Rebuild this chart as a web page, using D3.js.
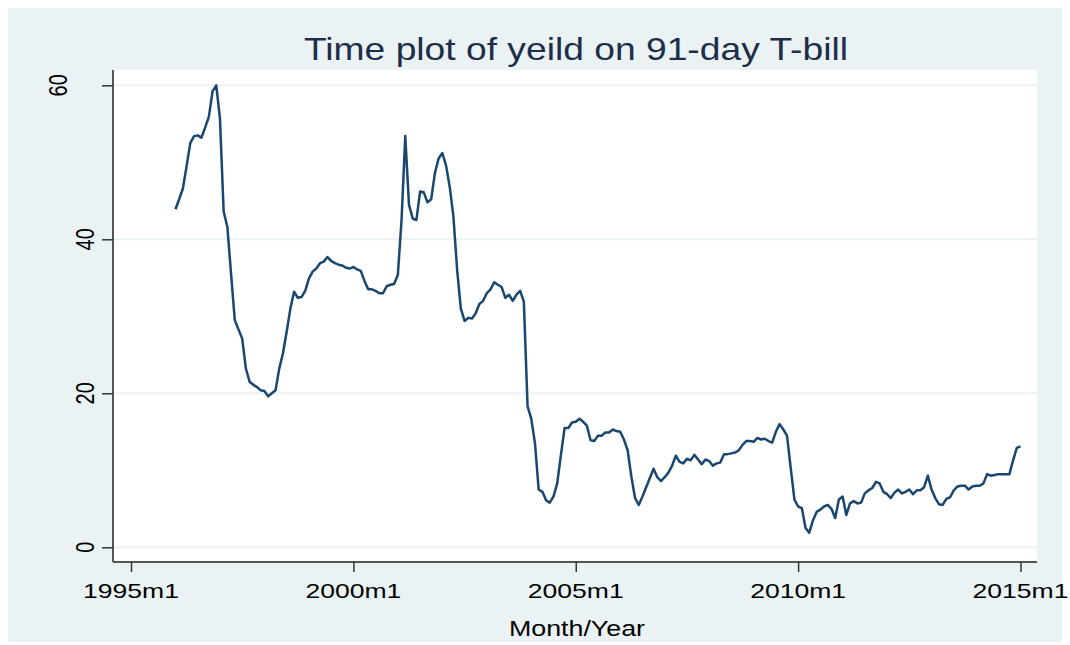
<!DOCTYPE html>
<html>
<head>
<meta charset="utf-8">
<script src="https://cdn.jsdelivr.net/npm/d3@7"></script>
<style>
  body { margin: 0; background: #fff; }
  svg { display: block; font-family: "Liberation Sans", Arial, sans-serif; }
</style>
</head>
<body>
<svg id="chart" width="1070" height="645"></svg>
<script>
// monthly yield, first value is 1996m1, last 2015m1
var startYear = 1996;
var yieldPct = [
  43.9, 45.2, 46.6, 49.5, 52.5, 53.4, 53.5, 53.2, 54.5, 55.9, 59.2, 60.0, // 1996
  55.7, 43.6, 41.6, 35.5, 29.5, 28.3, 27.1, 23.2, 21.5, 21.1, 20.8, 20.4, // 1997
  20.3, 19.6, 20.0, 20.4, 23.2, 25.2, 28.0, 31.0, 33.2, 32.4, 32.5, 33.3, // 1998
  34.9, 35.8, 36.2, 36.9, 37.1, 37.7, 37.2, 36.9, 36.7, 36.6, 36.3, 36.2, // 1999
  36.4, 36.1, 35.9, 34.6, 33.5, 33.5, 33.3, 33.0, 33.0, 33.9, 34.1, 34.2, // 2000
  35.4, 42.5, 53.4, 44.5, 42.7, 42.5, 46.2, 46.1, 44.8, 45.2, 48.6, 50.5, // 2001
  51.2, 49.6, 46.8, 42.9, 36.0, 31.0, 29.4, 29.8, 29.7, 30.4, 31.6, 32.0, // 2002
  33.0, 33.5, 34.4, 34.1, 33.8, 32.4, 32.8, 32.0, 32.8, 33.3, 31.9, 18.3, // 2003
  16.7, 13.5, 7.5, 7.2, 6.1, 5.8, 6.6, 8.3, 12.0, 15.5, 15.5, 16.2,       // 2004
  16.3, 16.7, 16.3, 15.8, 13.9, 13.8, 14.5, 14.5, 14.9, 14.9, 15.3, 15.1, // 2005
  15.0, 14.0, 12.6, 9.2, 6.4, 5.5, 6.6, 7.8, 9.0, 10.2, 9.1, 8.6,         // 2006
  9.1, 9.7, 10.6, 11.9, 11.1, 10.9, 11.5, 11.3, 12.0, 11.4, 10.8, 11.4,   // 2007
  11.2, 10.6, 10.9, 11.0, 12.1, 12.1, 12.2, 12.3, 12.6, 13.3, 13.8, 13.8, // 2008
  13.7, 14.2, 14.0, 14.1, 13.8, 13.6, 15.0, 16.0, 15.3, 14.5, 10.3, 6.2,  // 2009
  5.3, 5.1, 2.5, 1.9, 3.5, 4.6, 4.9, 5.3, 5.5, 5.0, 3.8, 6.2,             // 2010
  6.6, 4.2, 5.7, 6.0, 5.7, 5.8, 7.0, 7.4, 7.7, 8.5, 8.3, 7.2,             // 2011
  6.9, 6.4, 7.1, 7.5, 7.0, 7.2, 7.5, 6.9, 7.4, 7.4, 7.8, 9.3,             // 2012
  7.5, 6.4, 5.6, 5.5, 6.3, 6.5, 7.4, 7.9, 8.0, 8.0, 7.5, 7.9,             // 2013
  8.0, 8.0, 8.3, 9.5, 9.3, 9.4, 9.5, 9.5, 9.5, 9.5, 11.3, 12.9,           // 2014
  13.1                                                                    // 2015
];
var xTickYears = [1995, 2000, 2005, 2010, 2015];
var yTicks = [0, 20, 40, 60];
var titleText = "Time plot of yeild on 91-day T-bill";
var xTitle = "Month/Year";

var svg = d3.select("#chart");
var plot = { left: 113, right: 1037, top: 70, bottom: 562 };

// months counted from 1995m1
var x = d3.scaleLinear().domain([0, 240]).range([131, 1020.5]);
var y = d3.scaleLinear().domain([0, 60]).range([547.3, 85.3]);

var data = yieldPct.map(function (v, i) {
  return { m: (startYear - 1995) * 12 + i, v: v };
});

// graph region + plot region
svg.append("rect").attr("x", 8).attr("y", 8).attr("width", 1054).attr("height", 634)
  .attr("fill", "#eaf2f3");
svg.append("rect").attr("x", plot.left).attr("y", plot.top)
  .attr("width", plot.right - plot.left).attr("height", plot.bottom - plot.top)
  .attr("fill", "#fff");

// grid
svg.append("g").selectAll("line").data(yTicks).enter().append("line")
  .attr("x1", plot.left).attr("x2", plot.right)
  .attr("y1", function (d) { return y(d); }).attr("y2", function (d) { return y(d); })
  .attr("stroke", "#eaf2f3").attr("stroke-width", 2);

// line
var line = d3.line()
  .x(function (d) { return x(d.m); })
  .y(function (d) { return y(d.v); });
svg.append("path").datum(data)
  .attr("d", line)
  .attr("fill", "none")
  .attr("stroke", "#1a476f")
  .attr("stroke-width", 2.5)
  .attr("stroke-linejoin", "round");

// y axis
var yAxis = svg.append("g").attr("transform", "translate(" + plot.left + ",0)")
  .call(d3.axisLeft(y).tickValues(yTicks).tickSize(11).tickFormat(""));
yAxis.select(".domain").attr("d", "M0," + plot.top + "V" + plot.bottom)
  .attr("stroke", "#555").attr("stroke-width", 2);
yAxis.selectAll(".tick line").attr("stroke", "#333").attr("stroke-width", 1.5);

svg.append("g").selectAll("text").data(yTicks).enter().append("text")
  .attr("transform", function (d) {
    var cx = d === 60 ? 58 : 85;
    return "translate(" + cx + "," + y(d) + ") scale(1.3,1) rotate(-90)";
  })
  .attr("text-anchor", "middle")
  .attr("dy", "0.36em")
  .attr("font-size", 20)
  .attr("fill", "#000")
  .text(function (d) { return d; });

// x axis
var xAxis = svg.append("g").attr("transform", "translate(0," + plot.bottom + ")")
  .call(d3.axisBottom(x).tickValues(xTickYears.map(function (yr) { return (yr - 1995) * 12; }))
    .tickSize(10).tickFormat(""));
xAxis.select(".domain").attr("d", "M" + plot.left + ",0H" + plot.right)
  .attr("stroke", "#555").attr("stroke-width", 2);
xAxis.selectAll(".tick line").attr("stroke", "#333").attr("stroke-width", 1.5);

svg.append("g").selectAll("text").data(xTickYears).enter().append("text")
  .attr("x", function (d) { return x((d - 1995) * 12); })
  .attr("y", 598)
  .attr("text-anchor", "middle")
  .attr("font-size", 21)
  .attr("textLength", 96)
  .attr("lengthAdjust", "spacingAndGlyphs")
  .attr("fill", "#000")
  .text(function (d) { return d + "m1"; });

svg.append("text")
  .attr("x", 577).attr("y", 636)
  .attr("text-anchor", "middle")
  .attr("font-size", 22)
  .attr("textLength", 136)
  .attr("lengthAdjust", "spacingAndGlyphs")
  .attr("fill", "#000")
  .text(xTitle);

// title
svg.append("text")
  .attr("x", 576).attr("y", 60)
  .attr("text-anchor", "middle")
  .attr("font-size", 32)
  .attr("textLength", 544)
  .attr("lengthAdjust", "spacingAndGlyphs")
  .attr("fill", "#1c2e4a")
  .text(titleText);
</script>
</body>
</html>
